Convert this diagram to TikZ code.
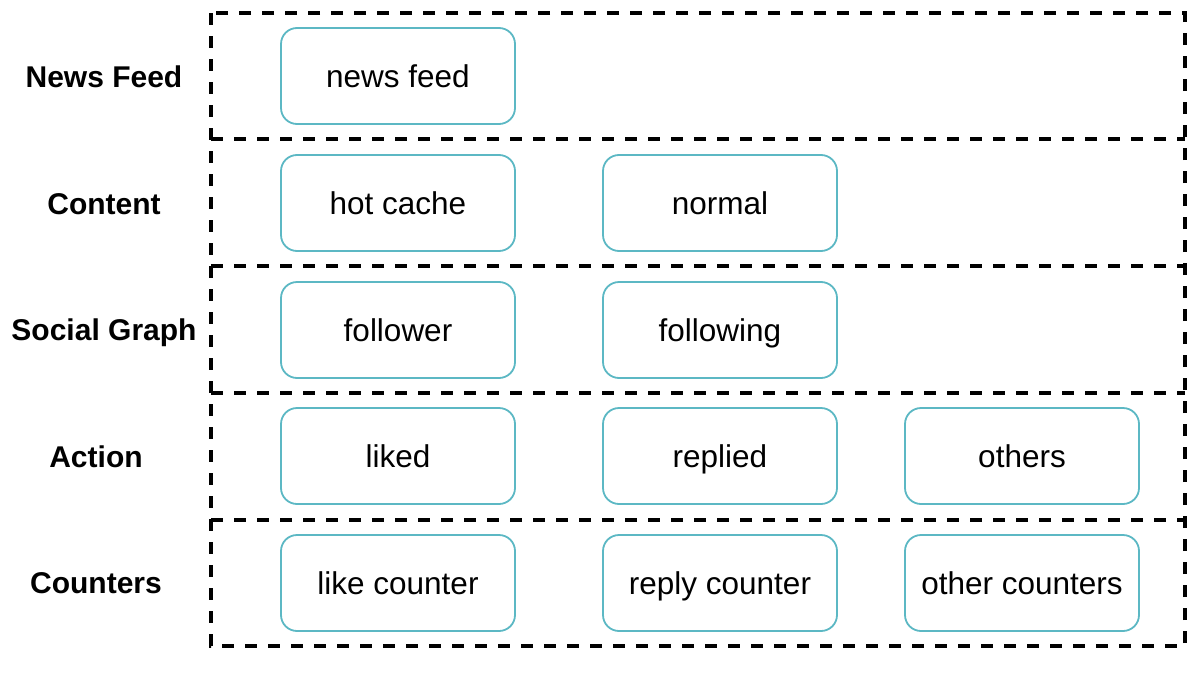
\documentclass[tikz,border=0pt]{standalone}
\usepackage{fontspec}
\setmainfont{Liberation Sans}
\definecolor{boxteal}{RGB}{92,184,196}
\tikzset{
  cell/.style={draw=boxteal, line width=1.8pt, rounded corners=16pt, minimum width=234pt, minimum height=96pt, font=\fontsize{31.5}{36}\selectfont, inner sep=0pt, text height=28pt, text depth=5.5pt, fill=white},
  rowlabel/.style={font=\fontsize{30}{34}\selectfont\bfseries, inner sep=0pt, text height=27pt, text depth=5.5pt},
  frame/.style={line width=3.6pt, dash pattern=on 12pt off 11pt}
}
\begin{document}
\begin{tikzpicture}[x=1pt,y=-1pt]
\useasboundingbox (0,0) rectangle (1191,680);
% outer frame and dividers
\coordinate (tl) at (211,13);
\coordinate (br) at (1185,646);
\draw[frame] (tl) rectangle (br);
\foreach \yy in {139,266,393,520}{
  \draw[frame] (211,\yy) -- (1185,\yy);
}
% row labels
\node[rowlabel] (lnews) at (104,77) {News Feed};
\node[rowlabel] (lcont) at (104,204) {Content};
\node[rowlabel] (lsoc) at (104,330) {Social Graph};
\node[rowlabel] (lact) at (96,457) {Action};
\node[rowlabel] (lcnt) at (96,583) {Counters};
% cells
\node[cell] (newsfeed) at (398,76) {news feed};
\node[cell] (hotcache) at (398,203) {hot cache};
\node[cell] (normal) at (720,203) {normal};
\node[cell] (follower) at (398,330) {follower};
\node[cell] (following) at (720,330) {following};
\node[cell] (liked) at (398,456) {liked};
\node[cell] (replied) at (720,456) {replied};
\node[cell] (others) at (1022,456) {others};
\node[cell] (likecounter) at (398,583) {like counter};
\node[cell] (replycounter) at (720,583) {reply counter};
\node[cell] (othercounters) at (1022,583) {other counters};
\end{tikzpicture}
\end{document}
